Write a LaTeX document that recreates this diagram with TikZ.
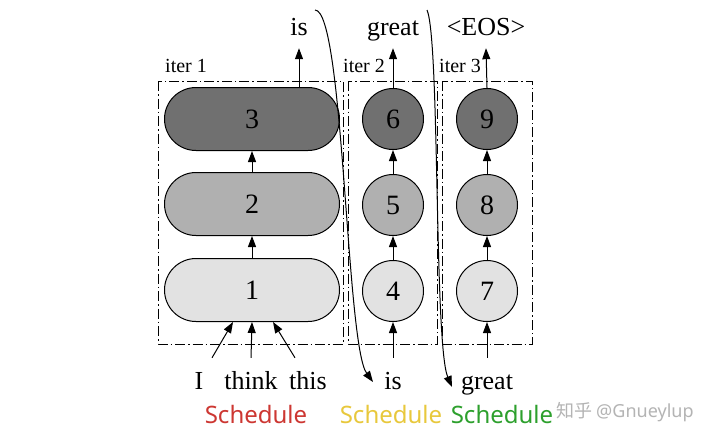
\documentclass[tikz,border=0pt]{standalone}
\usepackage{fontspec}
\setmainfont{Liberation Serif}
\newfontfamily\schedfont{Noto Sans}
\newfontfamily\cjk{Noto Sans CJK SC}
\usetikzlibrary{arrows.meta, positioning, shapes.misc}
\definecolor{lowgray}{RGB}{226,226,226}
\definecolor{midgray}{RGB}{176,176,176}
\definecolor{highgray}{RGB}{112,112,112}
\definecolor{schedred}{RGB}{205,55,50}
\definecolor{schedyellow}{RGB}{232,200,60}
\definecolor{schedgreen}{RGB}{45,160,45}
\definecolor{markgray}{RGB}{180,180,180}
\tikzset{
  pill/.style={draw, line width=1pt, rounded rectangle, minimum width=175pt,
               minimum height=63pt, inner sep=0pt, font=\fontsize{28}{32}\selectfont},
  token/.style={draw, line width=1pt, circle, minimum size=61pt, inner sep=0pt,
                font=\fontsize{28}{32}\selectfont},
  iterbox/.style={draw, line width=0.9pt, dash pattern=on 10pt off 3pt on 1.5pt off 3pt},
  itertag/.style={anchor=base west, inner sep=0pt, font=\fontsize{20}{24}\selectfont},
  word/.style={anchor=base, inner sep=0pt, text height=19pt, text depth=6pt,
               font=\fontsize{26}{30}\selectfont},
  sched/.style={anchor=base, inner sep=0pt, font=\schedfont\fontsize{24}{28}\selectfont},
  flow/.style={-{Triangle[length=11pt,width=8pt]}, line width=1pt},
}
\begin{document}
\begin{tikzpicture}[x=1pt, y=-1pt]
\useasboundingbox[fill=white] (0,0) rectangle (703,442);

% iteration frames
\draw[iterbox] (158,81) rectangle (343,344);
\draw[iterbox] (348,81) rectangle (437,344);
\draw[iterbox] (442,81) rectangle (532,344);
\node[itertag] (tag1) at (165,72) {iter 1};
\node[itertag] (tag2) at (343,72) {iter 2};
\node[itertag] (tag3) at (439,72) {iter 3};

% iter 1
\node[pill, fill=lowgray]  (n1) at (252,290) {1};
\node[pill, fill=midgray]  (n2) at (252,204) {2};
\node[pill, fill=highgray] (n3) at (252,119) {3};
% iter 2
\node[token, fill=lowgray]  (n4) at (393,291) {4};
\node[token, fill=midgray]  (n5) at (393,205) {5};
\node[token, fill=highgray] (n6) at (393,119) {6};
% iter 3
\node[token, fill=lowgray]  (n7) at (487,291) {7};
\node[token, fill=midgray]  (n8) at (487,205) {8};
\node[token, fill=highgray] (n9) at (487,119) {9};

% outputs
\node[word] (outis)    at (299,35) {is};
\node[word] (outgreat) at (393,35) {great};
\node[word] (outeos)   at (486,35) {<EOS>};

% inputs
\node[word] (inI)     at (199,389) {I};
\node[word] (inthink) at (251,389) {think};
\node[word] (inthis)  at (308,389) {this};
\node[word] (inis)    at (393,389) {is};
\node[word] (ingreat) at (487,389) {great};

% schedules
\node[sched, text=schedred]    (s1) at (256,423) {Schedule};
\node[sched, text=schedyellow] (s2) at (391,423) {Schedule};
\node[sched, text=schedgreen]  (s3) at (502,423) {Schedule};
\node[anchor=base west, inner sep=0pt, text=markgray, font=\fontsize{18}{21}\selectfont]
  (mark) at (556,417) {\cjk 知乎 \schedfont@Gnueylup};

% arrows inside the stacks
\foreach \a/\b in {n1/n2, n2/n3, n4/n5, n5/n6, n7/n8, n8/n9}
  \draw[flow] (\a.north) -- (\b.south);

% arrows to the outputs
\draw[flow] (n3.north -| outis.south) -- ([yshift=-7pt]outis.south);
\draw[flow] (n6.north) -- ([yshift=-7pt]outgreat.south);
\draw[flow] (n9.north) -- ([yshift=-7pt]outeos.south);

% arrows from the inputs
\draw[flow] ([shift={(13pt,12pt)}]inI.north) -- ([xshift=-19pt]n1.south);
\draw[flow] ([yshift=12pt]inthink.north) -- (n1.south);
\draw[flow] ([shift={(-13pt,12pt)}]inthis.north) -- ([xshift=21pt]n1.south);
\draw[flow] ([yshift=12pt]inis.north) -- (n4.south);
\draw[flow] ([yshift=12pt]ingreat.north) -- (n7.south);

% outputs fed back as inputs
\coordinate (isfrom) at (315,10);
\coordinate (isto) at (373,382);
\coordinate (greatfrom) at (427,10);
\coordinate (greatto) at (452,387);
\draw[flow] (isfrom) .. controls (344,10) and (346,345) .. (isto);
\draw[flow] (greatfrom) .. controls (440,40) and (434,345) .. (greatto);
\end{tikzpicture}
\end{document}
